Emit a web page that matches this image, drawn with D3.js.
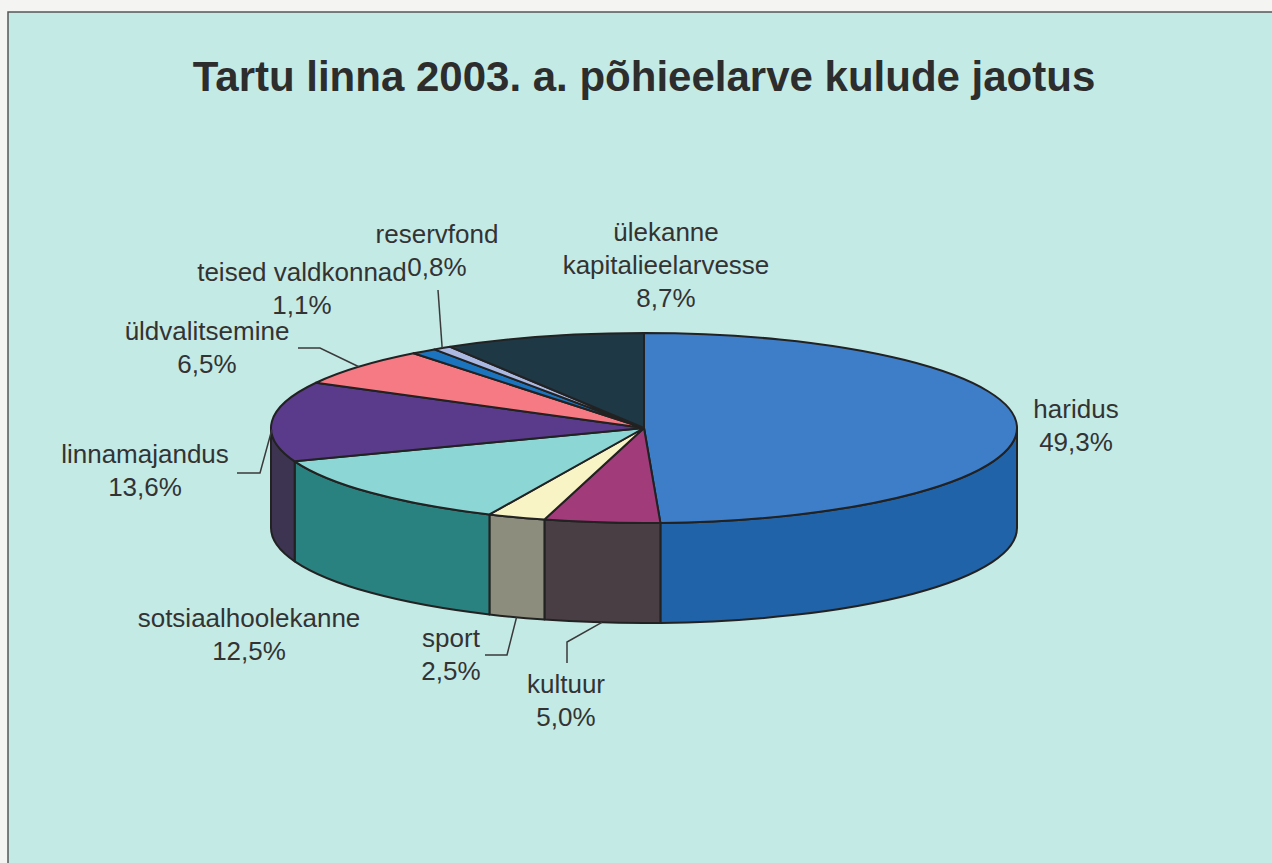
<!DOCTYPE html>
<html>
<head>
<meta charset="utf-8">
<script src="https://cdn.jsdelivr.net/npm/d3@7"></script>
<style>
  body { margin: 0; background: #f4f4f2; }
  svg { display: block; }
</style>
</head>
<body>
<div id="chart"></div>
<script>
// data
var categories = ['haridus', 'kultuur', 'sport', 'sotsiaalhoolekanne', 'linnamajandus',
    'üldvalitsemine', 'teised valdkonnad', 'reservfond', 'ülekanne kapitalieelarvesse'];
var values = [49.3, 5.0, 2.5, 12.5, 13.6, 6.5, 1.1, 0.8, 8.7];
var title = 'Tartu linna 2003. a. põhieelarve kulude jaotus';

// colours (top face / side wall)
var topColors  = ['#3e7ec9', '#a23b79', '#f8f4c6', '#8cd7d6', '#5a3a8b', '#f67a83', '#1b74bd', '#aab8e2', '#1f3845'];
var sideColors = ['#2063a8', '#4a3e45', '#8d8d7d', '#2a8280', '#3c3450', '#c0555c', '#10528a', '#7f8cb0', '#142630'];

// label placement (centre x, first baseline y) and leader elbows
var labelPos = [
    { x: 1076, y: 418 },
    { x: 566, y: 693, leader: [[567, 663], [567, 642]] },
    { x: 451, y: 647, leader: [[485, 655], [507, 655]] },
    { x: 249, y: 627 },
    { x: 145, y: 463, leader: [[237, 473], [260, 473]] },
    { x: 207, y: 340, leader: [[298, 348], [320, 348]] },
    { x: 302, y: 281 },
    { x: 437, y: 243, leader: [[438, 290]] },
    { x: 666, y: 241, wrap: true }
];

var chart_width = 1272;
var chart_height = 863;
var cx = 644, cy = 428, rx = 373, ry = 95, depth = 100;
var lineGap = 33;

var locale = d3.formatLocale({ decimal: ',', thousands: ' ', grouping: [3], currency: ['', ''] });
var pct = locale.format('.1f');

var svg = d3.select('#chart')
    .append('svg')
    .attr('width', chart_width)
    .attr('height', chart_height);

// frame + background
svg.append('rect')
    .attr('x', 8).attr('y', 12)
    .attr('width', chart_width - 8).attr('height', chart_height - 12)
    .attr('fill', '#c4eae6');
svg.append('path')
    .attr('d', 'M8,' + chart_height + 'V12H' + chart_width)
    .attr('fill', 'none')
    .attr('stroke', '#555')
    .attr('stroke-width', 1.5);

svg.append('text')
    .attr('x', cx)
    .attr('y', 91)
    .attr('text-anchor', 'middle')
    .attr('font-family', 'Liberation Sans, Arial, sans-serif')
    .attr('font-weight', 'bold')
    .attr('font-size', 42)
    .attr('fill', '#2d2d2d')
    .text(title);

var pie = d3.pie().sort(null).value(function(d) { return d; });
var arcs = pie(values);

function px(a) { return cx + rx * Math.sin(a); }
function py(a) { return cy - ry * Math.cos(a); }

// side walls (front half only: angles between PI/2 and 3PI/2)
var walls = svg.append('g');
arcs.forEach(function(d, i) {
    var a0 = Math.max(d.startAngle, Math.PI / 2);
    var a1 = Math.min(d.endAngle, Math.PI * 1.5);
    if (a1 <= a0) return;
    var path = 'M' + px(a0) + ',' + py(a0) +
        'A' + rx + ',' + ry + ' 0 0 1 ' + px(a1) + ',' + py(a1) +
        'L' + px(a1) + ',' + (py(a1) + depth) +
        'A' + rx + ',' + ry + ' 0 0 0 ' + px(a0) + ',' + (py(a0) + depth) + 'Z';
    walls.append('path')
        .attr('d', path)
        .attr('fill', sideColors[i])
        .attr('stroke', '#222')
        .attr('stroke-width', 2)
        .attr('stroke-linejoin', 'round');
});

// top faces
svg.append('g')
    .selectAll('path')
    .data(arcs)
    .enter()
    .append('path')
    .attr('d', function(d) {
        var large = d.endAngle - d.startAngle > Math.PI ? 1 : 0;
        return 'M' + cx + ',' + cy +
            'L' + px(d.startAngle) + ',' + py(d.startAngle) +
            'A' + rx + ',' + ry + ' 0 ' + large + ' 1 ' + px(d.endAngle) + ',' + py(d.endAngle) + 'Z';
    })
    .attr('fill', function(d, i) { return topColors[i]; })
    .attr('stroke', '#222')
    .attr('stroke-width', 2)
    .attr('stroke-linejoin', 'round');

// leader lines
arcs.forEach(function(d, i) {
    var lp = labelPos[i];
    if (!lp.leader) return;
    var m = (d.startAngle + d.endAngle) / 2;
    var f = Math.max(0, Math.min(1, 0.15 - Math.cos(m)));
    var anchor = [px(m), py(m) + depth * f];
    svg.append('path')
        .attr('d', d3.line()(lp.leader.concat([anchor])))
        .attr('fill', 'none')
        .attr('stroke', '#3a3a3a')
        .attr('stroke-width', 1.5);
});

// labels
arcs.forEach(function(d, i) {
    var lp = labelPos[i];
    var lines = lp.wrap ? categories[i].split(' ') : [categories[i]];
    lines.push(pct(values[i]) + '%');
    var t = svg.append('text')
        .attr('text-anchor', 'middle')
        .attr('font-family', 'Liberation Sans, Arial, sans-serif')
        .attr('font-size', 26)
        .attr('fill', '#333');
    lines.forEach(function(s, k) {
        t.append('tspan')
            .attr('x', lp.x)
            .attr('y', lp.y + k * lineGap)
            .text(s);
    });
});
</script>
</body>
</html>
